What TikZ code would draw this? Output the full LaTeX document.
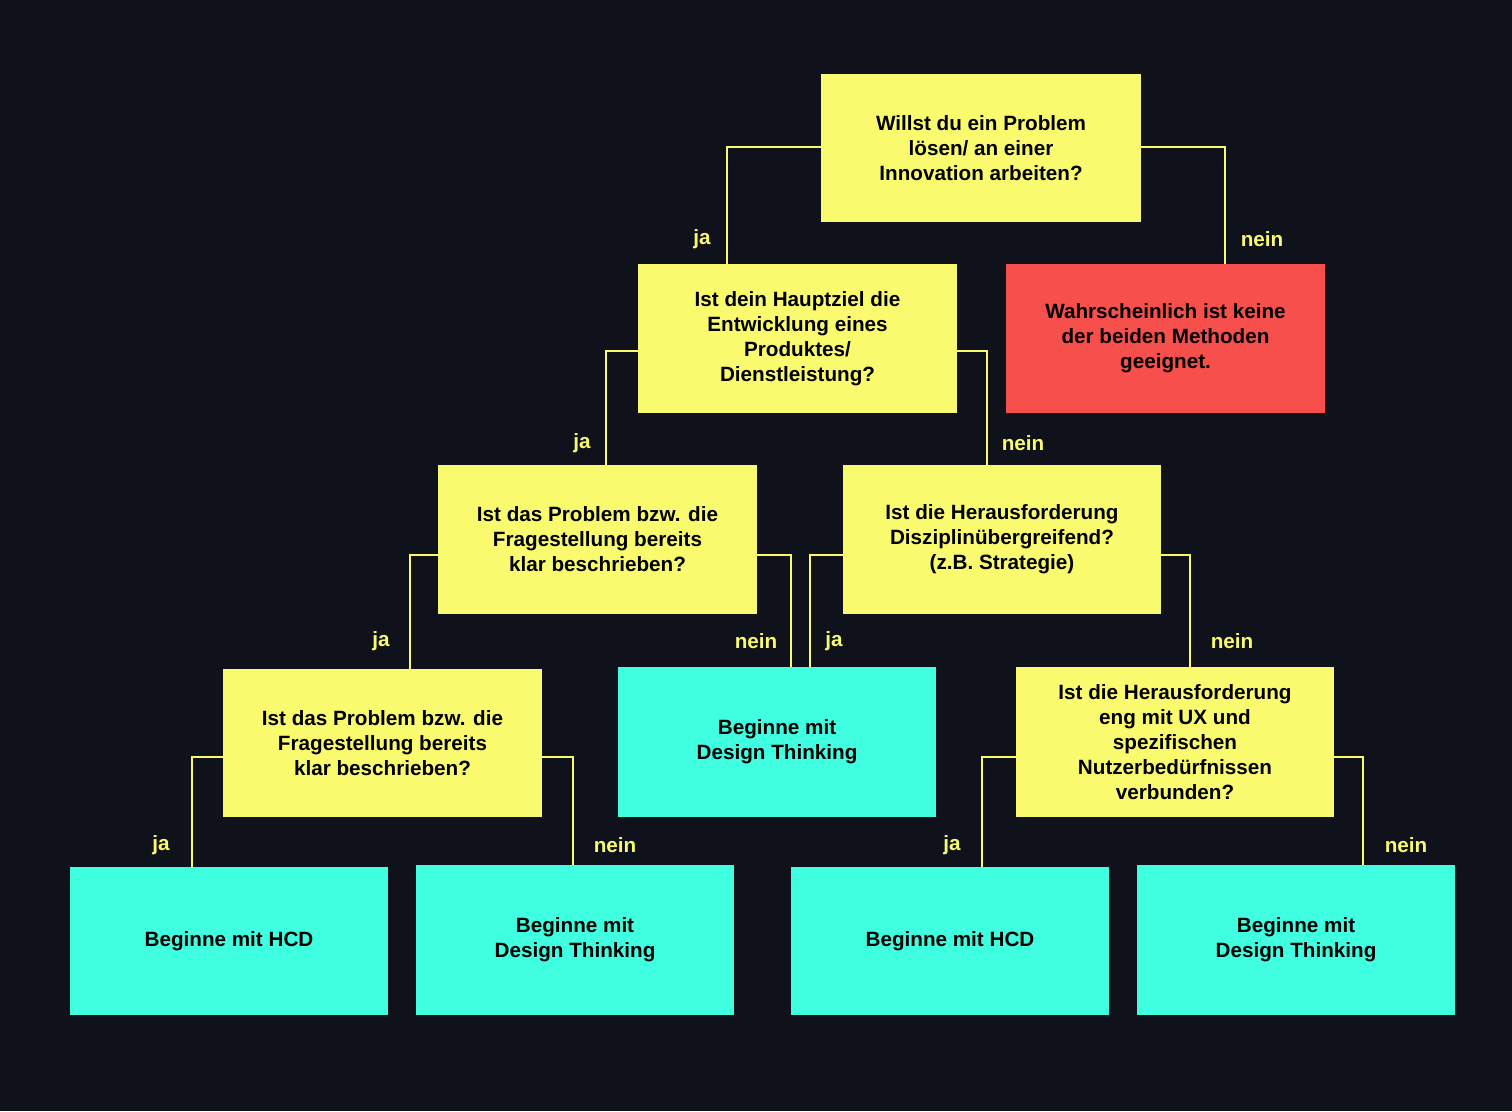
\documentclass[tikz,border=0pt]{standalone}
\usepackage{fontspec}
\setmainfont{Liberation Sans}
\begin{document}
\begin{tikzpicture}[x=0.75pt,y=-0.75pt,
  box/.style={inner sep=0pt,align=center,font=\bfseries\fontsize{15.5}{18.8}\selectfont,text=black},
  yb/.style={box,fill=yel},
  rb/.style={box,fill=redc},
  cb/.style={box,fill=cyanc},
  con/.style={draw=yel,line width=1.6pt},
  lab/.style={text=yel,font=\bfseries\fontsize{15.5}{18}\selectfont}]
\definecolor{bgc}{HTML}{0F121A}
\definecolor{yel}{HTML}{FAFA6E}
\definecolor{redc}{HTML}{F74F4B}
\definecolor{cyanc}{HTML}{3FFFE0}
\fill[bgc] (0,0) rectangle (1512,1111);
\useasboundingbox (0,0) rectangle (1512,1111);
\newcommand\mybox[6]{\node[#1,minimum width={(#4-#2)*0.75pt},minimum height={(#5-#3)*0.75pt}] (#6) at ({(#2+#4)/2},{(#3+#5)/2})}
\mybox{yb}{821}{74}{1141}{222}{a} {Willst du ein Problem\\lösen/ an einer\\Innovation arbeiten?};
\mybox{yb}{638}{264}{957}{413}{b} {Ist dein Hauptziel die\\Entwicklung eines\\Produktes/\\Dienstleistung?};
\mybox{rb}{1006}{264}{1325}{413}{c} {Wahrscheinlich ist keine\\der beiden Methoden\\geeignet.};
\mybox{yb}{438}{465}{757}{614}{d} {Ist das Problem bzw. die\\Fragestellung bereits\\klar beschrieben?};
\mybox{yb}{843}{465}{1161}{614}{e} {Ist die Herausforderung\\Disziplinübergreifend?\\(z.B. Strategie)};
\mybox{yb}{223}{669}{542}{817}{f} {Ist das Problem bzw. die\\Fragestellung bereits\\klar beschrieben?};
\mybox{cb}{618}{667}{936}{817}{g} {Beginne mit\\Design Thinking};
\mybox{yb}{1016}{667}{1334}{817}{h} {Ist die Herausforderung\\eng mit UX und\\spezifischen\\Nutzerbedürfnissen\\verbunden?};
\mybox{cb}{70}{867}{388}{1015}{i} {Beginne mit HCD};
\mybox{cb}{416}{865}{734}{1015}{j} {Beginne mit\\Design Thinking};
\mybox{cb}{791}{867}{1109}{1015}{k} {Beginne mit HCD};
\mybox{cb}{1137}{865}{1455}{1015}{l} {Beginne mit\\Design Thinking};
% connectors
\draw[con] (a.west |- 0,147) -| (b.north -| 727,0);
\draw[con] (a.east |- 0,147) -| (c.north -| 1225,0);
\draw[con] (b.west |- 0,351) -| (d.north -| 606,0);
\draw[con] (b.east |- 0,351) -| (e.north -| 987,0);
\draw[con] (d.west |- 0,555) -| (f.north -| 410,0);
\draw[con] (d.east |- 0,555) -| (g.north -| 791,0);
\draw[con] (e.west |- 0,555) -| (g.north -| 810,0);
\draw[con] (e.east |- 0,555) -| (h.north -| 1190,0);
\draw[con] (f.west |- 0,757) -| (i.north -| 192,0);
\draw[con] (f.east |- 0,757) -| (j.north -| 573,0);
\draw[con] (h.west |- 0,757) -| (k.north -| 982,0);
\draw[con] (h.east |- 0,757) -| (l.north -| 1363,0);
% labels
\node[lab] (l1) at (702,239) {ja};
\node[lab] (l2) at (1262,239) {nein};
\node[lab] (l3) at (582,443) {ja};
\node[lab] (l4) at (1023,443) {nein};
\node[lab] (l5) at (381,641) {ja};
\node[lab] (l6) at (756,641) {nein};
\node[lab] (l7) at (834,641) {ja};
\node[lab] (l8) at (1232,641) {nein};
\node[lab] (l9) at (161,845) {ja};
\node[lab] (l10) at (615,845) {nein};
\node[lab] (l11) at (952,845) {ja};
\node[lab] (l12) at (1406,845) {nein};
\end{tikzpicture}
\end{document}
